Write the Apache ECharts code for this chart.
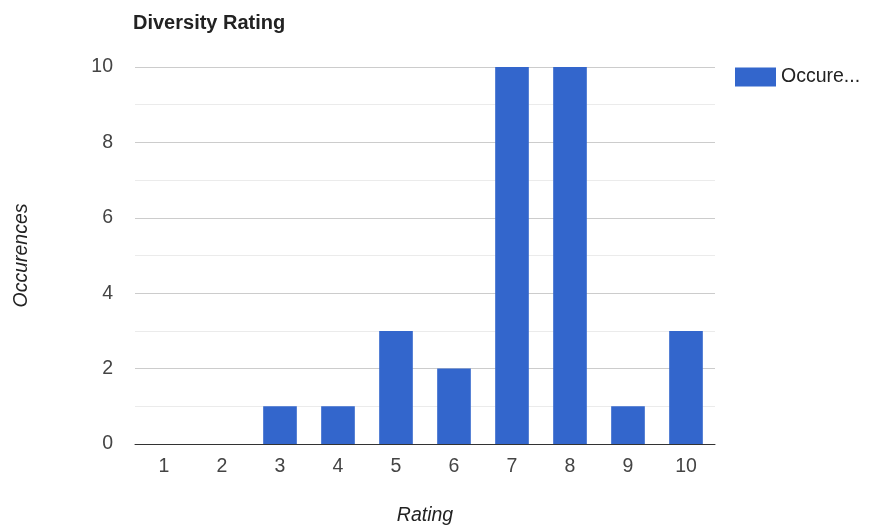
<!DOCTYPE html>
<html>
<head>
<meta charset="utf-8">
<script src="https://cdn.jsdelivr.net/npm/echarts@6/dist/echarts.min.js"></script>
<style>
  html, body { margin: 0; padding: 0; background: #fff; }
  #chart { width: 871px; height: 531px; }
</style>
</head>
<body>
<div id="chart"></div>
<script>
// Rating buckets and how often each was given
const ratings = ['1', '2', '3', '4', '5', '6', '7', '8', '9', '10'];
const occurrences = [0, 0, 1, 1, 3, 2, 10, 10, 1, 3];
const seriesName = 'Occurences';
const yTicks = [0, 2, 4, 6, 8, 10];

const chart = echarts.init(document.getElementById('chart'), null, { renderer: 'canvas' });
const font = '"Liberation Sans", Arial, sans-serif';
const fs = 19.5;

chart.setOption({
  animation: false,
  backgroundColor: '#ffffff',
  title: {
    text: 'Diversity Rating',
    left: 128,
    top: 8,
    textStyle: { fontFamily: font, fontSize: 20, fontWeight: 'bold', color: '#222' }
  },
  legend: {
    left: 735,
    top: 67,
    padding: 0,
    itemWidth: 41,
    itemHeight: 19,
    itemGap: 8,
    icon: 'rect',
    textStyle: {
      fontFamily: font, fontSize: fs, color: '#222',
      width: 82, overflow: 'truncate', ellipsis: '...'
    },
    data: [seriesName]
  },
  grid: { left: 135, right: 156, top: 67, bottom: 86 },
  xAxis: {
    type: 'category',
    data: ratings,
    name: 'Rating',
    nameLocation: 'middle',
    nameGap: 62,
    nameTextStyle: { fontFamily: font, fontSize: fs, fontStyle: 'italic', color: '#222' },
    axisLine: { show: true, lineStyle: { color: '#333', width: 1 } },
    axisTick: { show: false },
    axisLabel: { fontFamily: font, fontSize: fs, color: '#444', margin: 13 }
  },
  yAxis: {
    type: 'value',
    min: yTicks[0],
    max: yTicks[yTicks.length - 1],
    interval: 2,
    name: 'Occurences',
    nameLocation: 'middle',
    nameGap: 103,
    nameTextStyle: { fontFamily: font, fontSize: fs, fontStyle: 'italic', color: '#222' },
    axisLine: { show: false },
    axisTick: { show: false },
    axisLabel: { fontFamily: font, fontSize: fs, color: '#444', margin: 22 },
    splitLine: { show: true, lineStyle: { color: '#cccccc', width: 1 } },
    minorTick: { show: false, splitNumber: 2 },
    minorSplitLine: { show: true, lineStyle: { color: '#ebebeb', width: 1 } }
  },
  series: [{
    name: seriesName,
    type: 'bar',
    data: occurrences,
    barWidth: '58%',
    itemStyle: { color: '#3366CC' }
  }]
});
</script>
</body>
</html>
